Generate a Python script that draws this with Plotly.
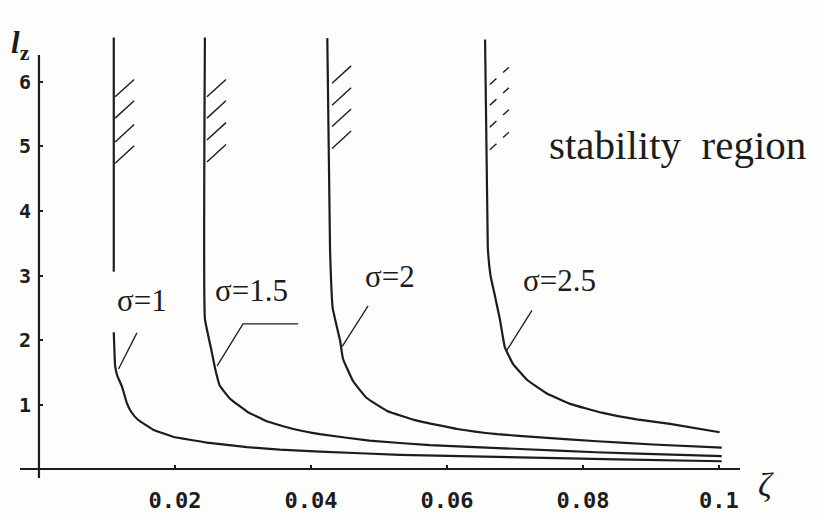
import plotly.graph_objects as go

# ---------------- data ----------------
sigma_labels = ["σ=1", "σ=1.5", "σ=2", "σ=2.5"]

s1_zeta = [0.0110, 0.0110, None, 0.0110, 0.0112, 0.0115, 0.0122, 0.0129, 0.0136, 0.0146,
           0.0168, 0.0197, 0.0247, 0.0306, 0.0354, 0.0413, 0.0531, 0.0707, 0.0850, 0.1004]
s1_l = [6.69, 3.06, None, 2.12, 1.60, 1.45, 1.28, 1.03, 0.88, 0.76,
        0.61, 0.50, 0.41, 0.34, 0.30, 0.27, 0.22, 0.18, 0.15, 0.12]

s15_zeta = [0.0244, 0.0244, 0.0254, 0.0259, 0.0266, 0.0281, 0.0306, 0.0335, 0.0374,
            0.0413, 0.0486, 0.0575, 0.0707, 0.0819, 0.0943, 0.1004]
s15_l = [6.69, 2.33, 1.82, 1.56, 1.29, 1.09, 0.89, 0.74, 0.62,
         0.54, 0.44, 0.37, 0.31, 0.26, 0.22, 0.20]

s2_zeta = [0.0424, 0.0428, 0.0432, 0.0443, 0.0447, 0.0462, 0.0482, 0.0512, 0.0556,
           0.0615, 0.0674, 0.0737, 0.0821, 0.0903, 0.1004]
s2_l = [6.68, 3.42, 2.49, 1.98, 1.71, 1.36, 1.10, 0.90, 0.75,
        0.62, 0.54, 0.49, 0.43, 0.38, 0.33]

s25_zeta = [0.0656, 0.0660, 0.0664, 0.0671, 0.0678, 0.0685, 0.0697, 0.0718, 0.0747,
            0.0781, 0.0829, 0.0879, 0.0928, 0.1001]
s25_l = [6.66, 3.44, 3.00, 2.66, 2.31, 1.89, 1.63, 1.38, 1.17,
         1.01, 0.87, 0.77, 0.70, 0.57]

curves_zeta = [s1_zeta, s15_zeta, s2_zeta, s25_zeta]
curves_l = [s1_l, s15_l, s2_l, s25_l]

# hatching (stability side): start point on each vertical branch
hatch_zeta = [0.0112, 0.0247, 0.0431, 0.0663]
hatch_l = [[5.77, 5.44, 5.07, 4.74],
           [5.77, 5.44, 5.10, 4.76],
           [5.98, 5.64, 5.31, 4.97],
           [5.96, 5.64, 5.30, 4.95]]
hatch_dz = 0.0028
hatch_dl = 0.27

# leader lines from label to curve
lead_zeta = [[0.0117, 0.0144],
             [0.0262, 0.0300, 0.0381],
             [0.0446, 0.0484],
             [0.0688, 0.0725]]
lead_l = [[1.55, 2.11],
          [1.60, 2.25, 2.25],
          [1.90, 2.53],
          [1.84, 2.46]]

# label anchor positions
label_zeta = [0.0151, 0.0313, 0.0516, 0.0766]
label_l = [2.62, 2.76, 2.99, 2.92]

x_ticks = [0.02, 0.04, 0.06, 0.08, 0.1]
x_tick_text = ["0.02", "0.04", "0.06", "0.08", "0.1"]
y_ticks = [1, 2, 3, 4, 5, 6]
y_tick_text = ["1", "2", "3", "4", "5", "6"]

INK = "#1c1c1c"
BG = "#fdfdfc"

# plot-area geometry in pixels
W, H = 822, 517
ML, MR, MT, MB = 20, 82, 30, 39
PW, PH = W - ML - MR, H - MT - MB

fig = go.Figure()

for zs, ls in zip(curves_zeta, curves_l):
    fig.add_trace(go.Scatter(x=zs, y=ls, mode="lines",
                             line=dict(color=INK, width=2.2, shape="spline", smoothing=0.3),
                             connectgaps=False, showlegend=False, hoverinfo="skip"))

for i, (hz, hls) in enumerate(zip(hatch_zeta, hatch_l)):
    xs, ys = [], []
    for hl in hls:
        xs += [hz, hz + hatch_dz, None]
        ys += [hl, hl + hatch_dl, None]
    fig.add_trace(go.Scatter(x=xs, y=ys, mode="lines",
                             line=dict(color=INK, width=1.4, dash="dash" if i == 3 else "solid"),
                             showlegend=False, hoverinfo="skip"))

for zs, ls in zip(lead_zeta, lead_l):
    fig.add_trace(go.Scatter(x=zs, y=ls, mode="lines",
                             line=dict(color=INK, width=1.3),
                             showlegend=False, hoverinfo="skip"))

annotations = []
for txt, zx, ly in zip(sigma_labels, label_zeta, label_l):
    annotations.append(dict(x=zx, y=ly, xref="x", yref="y", text=txt, showarrow=False,
                            xanchor="center", yanchor="middle",
                            font=dict(family="Liberation Serif", size=31, color=INK)))
annotations.append(dict(x=0.0747, y=5.02, xref="x", yref="y", text="stability  region",
                        showarrow=False, xanchor="left", yanchor="middle",
                        font=dict(family="Liberation Serif", size=41, color=INK)))
annotations.append(dict(x=(20 - ML) / PW, y=(H - MB - 45) / PH, xref="paper", yref="paper",
                        text="<b><i>l</i></b><sub><b>z</b></sub>", showarrow=False,
                        xanchor="center", yanchor="middle",
                        font=dict(family="Liberation Serif", size=31, color=INK)))
annotations.append(dict(x=(766 - ML) / PW, y=(H - MB - 484) / PH, xref="paper", yref="paper",
                        text="<i>ζ</i>", showarrow=False, xanchor="center", yanchor="middle",
                        font=dict(family="Liberation Serif", size=34, color=INK)))

fig.update_layout(
    width=W, height=H, autosize=False,
    margin=dict(l=ML, r=MR, t=MT, b=MB, pad=0),
    paper_bgcolor=BG, plot_bgcolor=BG,
    annotations=annotations,
    shapes=[dict(type="line", xref="x", yref="y", x0=0, x1=0, y0=-0.14, y1=6.42,
                 line=dict(color=INK, width=2.2))],
    xaxis=dict(range=[-0.00279, 0.10309], anchor="free", position=0.0201, automargin=False,
               showline=True, linecolor=INK, linewidth=2.2, showgrid=False, zeroline=False,
               tickvals=x_ticks, ticktext=x_tick_text, ticks="inside", ticklen=3,
               tickwidth=1.5, tickcolor=INK, ticklabelstandoff=12,
               tickfont=dict(family="DejaVu Sans Mono", size=22, color=INK, weight="bold")),
    yaxis=dict(range=[-0.1395, 6.806], anchor="free", position=0.0264, automargin=False,
               showline=False, showgrid=False, zeroline=False,
               tickvals=y_ticks, ticktext=y_tick_text, ticks="inside", ticklen=3,
               tickwidth=1.5, tickcolor=INK, ticklabelstandoff=8,
               tickfont=dict(family="DejaVu Sans Mono", size=20, color=INK, weight="bold")),
)

fig.write_html("out.html")
